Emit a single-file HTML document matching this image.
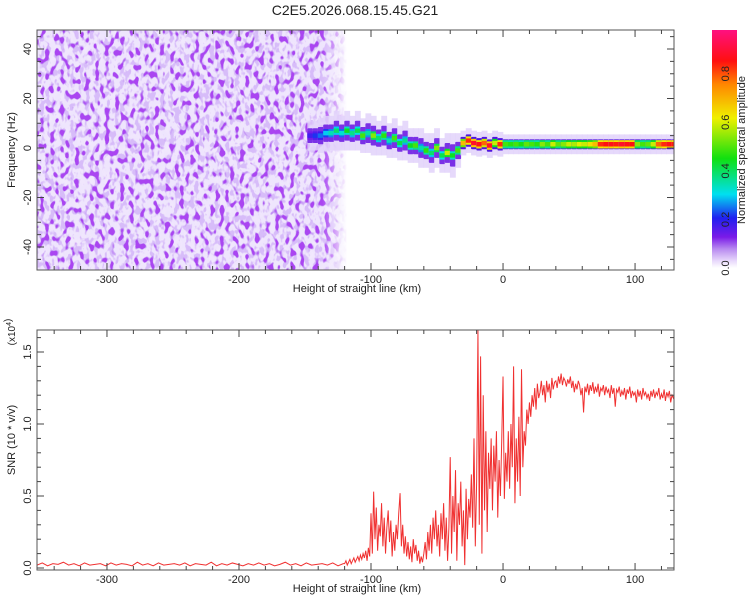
<!DOCTYPE html>
<html><head><meta charset="utf-8"><style>
html,body{margin:0;padding:0;background:#fff;}
svg{display:block;font-family:"Liberation Sans",sans-serif;}
</style></head><body>
<svg id="chart" width="750" height="600" viewBox="0 0 750 600">
<defs>
<filter id="speck" x="0" y="0" width="100%" height="100%">
<feTurbulence type="fractalNoise" baseFrequency="0.2 0.13" numOctaves="2" seed="7" result="n"/>
<feTurbulence type="fractalNoise" baseFrequency="0.2 0.14" numOctaves="1" seed="21" result="m"/>
<feColorMatrix in="n" type="matrix" values="0 0 0 0 0.86  0 0 0 0 0.78  0 0 0 0 0.98  4 0 0 0 -1.1" result="light"/>
<feColorMatrix in="n" type="matrix" values="0 0 0 0 0.68  0 0 0 0 0.5  0 0 0 0 0.95  0 8 0 0 -4.0" result="med"/>
<feColorMatrix in="m" type="matrix" values="0 0 0 0 0.40  0 0 0 0 0.06  0 0 0 0 0.88  0 0 10 0 -5.4" result="dark"/>
<feMerge><feMergeNode in="light"/><feMergeNode in="med"/><feMergeNode in="dark"/></feMerge>
</filter>
<linearGradient id="fadeX" x1="0" x2="1" y1="0" y2="0">
<stop offset="0" stop-color="#fff"/><stop offset="0.92" stop-color="#fff"/><stop offset="1" stop-color="#000"/>
</linearGradient>
<mask id="noiseMask"><rect x="37" y="30" width="310" height="240" fill="url(#fadeX)"/></mask>
<linearGradient id="cbar" x1="0" x2="0" y1="1" y2="0">
<stop offset="0" stop-color="#ffffff"/><stop offset="0.03" stop-color="#e8d8fb"/><stop offset="0.08" stop-color="#b88af0"/>
<stop offset="0.13" stop-color="#7a1be8"/><stop offset="0.21" stop-color="#2020f0"/><stop offset="0.31" stop-color="#00e0f0"/>
<stop offset="0.46" stop-color="#10e010"/><stop offset="0.63" stop-color="#f0f000"/><stop offset="0.77" stop-color="#ff8800"/>
<stop offset="0.87" stop-color="#ff1010"/><stop offset="1" stop-color="#ff1080"/>
</linearGradient>
<clipPath id="clipTop"><rect x="37" y="30" width="637" height="240"/></clipPath>
<clipPath id="clipBot"><rect x="37" y="330" width="637" height="240"/></clipPath>
</defs>

<text x="355" y="15" font-size="14" text-anchor="middle" fill="#222">C2E5.2026.068.15.45.G21</text>

<g id="topPanel">
<rect x="37" y="30" width="310" height="240" fill="#f1e8fd" mask="url(#noiseMask)"/>
<rect x="37" y="30" width="310" height="240" filter="url(#speck)" mask="url(#noiseMask)"/>
<g id="band" clip-path="url(#clipTop)"></g>
<rect x="37" y="30" width="637" height="240" fill="none" stroke="#555" stroke-width="1"/>
<g id="topTicks"></g>
<text x="357" y="292" font-size="11" text-anchor="middle" fill="#222">Height of straight line (km)</text>
<text transform="translate(15,150) rotate(-90)" font-size="11" text-anchor="middle" fill="#222">Frequency (Hz)</text>
</g>

<g id="colorbar">
<rect x="712" y="30" width="25" height="238" fill="url(#cbar)"/>
<g id="cbTicks"></g>
<text transform="translate(745,150) rotate(-90)" font-size="11" text-anchor="middle" fill="#222">Normalized spectral amplitude</text>
</g>

<g id="botPanel">
<path id="snrLine" fill="none" stroke="#f03030" stroke-width="1" clip-path="url(#clipBot)"/>
<rect x="37" y="330" width="637" height="240" fill="none" stroke="#555" stroke-width="1"/>
<g id="botTicks"></g>
<text x="357" y="592" font-size="11" text-anchor="middle" fill="#222">Height of straight line (km)</text>
<text transform="translate(15,440) rotate(-90)" font-size="11" text-anchor="middle" fill="#222">SNR (10 * v/v)</text>
<text transform="translate(15,332) rotate(-90)" font-size="10" text-anchor="middle" fill="#222">(x10<tspan font-size="7" dy="-4">4</tspan>)</text>
</g>
</svg>
<script>
// ---- data ----
const xTicks = [-300, -200, -100, 0, 100];
const freqTicks = [-40, -20, 0, 20, 40];
const snrTicks = [0.0, 0.5, 1.0, 1.5];
const cbTicks = [0.0, 0.2, 0.4, 0.6, 0.8];
const bandKm = [-146,-142,-138,-134,-130,-126,-122,-118,-114,-110,-106,-102,-98,-94,-90,-86,-82,-78,-74,-70,-66,-62,-58,-54,-50,-46,-42,-38,-34,-30,-26,-22,-18,-14,-10,-6,-2,2,6,10,14,18,22,26,30,34,38,42,46,50,54,58,62,66,70,74,78,82,86,90,94,98,102,106,110,114,118,122,126,130];
const bandFreq = [5,5,5,6,6,7,6,7,6,7,5,6,5,4,5,3,4,2,3,1,1,0,-1,-2,0,-3,-2,-3,-1,2,3,2,1.5,2,1,2,1.5,1.5,1.5,1.5,1.5,1.5,1.5,1.5,1.5,1.5,1.5,1.5,1.5,1.5,1.5,1.5,1.5,1.5,1.5,1.5,1.5,1.5,1.5,1.5,1.5,1.5,1.5,1.5,1.5,1.5,1.5,1.5,1.5,1.5];
const bandAmp = [0.18,0.22,0.25,0.3,0.35,0.4,0.33,0.45,0.38,0.42,0.5,0.36,0.55,0.4,0.48,0.35,0.5,0.42,0.38,0.45,0.5,0.36,0.48,0.4,0.55,0.42,0.6,0.45,0.5,0.7,0.85,0.9,0.88,0.8,0.9,0.6,0.85,0.5,0.48,0.5,0.47,0.52,0.5,0.48,0.55,0.5,0.6,0.52,0.55,0.6,0.58,0.62,0.6,0.65,0.7,0.85,0.87,0.88,0.86,0.9,0.88,0.87,0.55,0.5,0.52,0.6,0.8,0.85,0.88,0.86];
const bandSpread = [6,6,7,7,7,8,7,8,7,8,7,8,8,7,8,7,8,7,8,7,7,8,7,8,8,7,8,9,7,5,5,5,5,5,5,5,5,4,4,4,4,4,4,4,4,4,4,4,4,4,4,4,4,4,4,4,4,4,4,4,4,4,4,4,4,4,4,4,4,4];
const snrBase = [0.02,0.035,0.015,0.03,0.025,0.04,0.02,0.03,0.015,0.035,0.02,0.025,0.03,0.015,0.035,0.02,0.03,0.025,0.015,0.04,0.02,0.03,0.015,0.035,0.02,0.025,0.03,0.02,0.035,0.015,0.03,0.025,0.02,0.04,0.015,0.03,0.02,0.035,0.025,0.015,0.03,0.02,0.035,0.02,0.03,0.015,0.025,0.04,0.02,0.03,0.015,0.035,0.02,0.025,0.03,0.02,0.035,0.015,0.03];
const snrMain = [
.03,.05,.02,.04,.06,.03,.05,.07,.04,.06,
.08,.05,.09,.06,.10,.07,.12,.05,.14,.08,
.38,.10,.53,.20,.42,.12,.30,.22,.45,.15,
.35,.10,.28,.40,.18,.33,.08,.25,.12,.30,
.20,.38,.52,.15,.30,.10,.22,.08,.18,.06,
.15,.04,.20,.10,.16,.05,.12,.03,.08,.04,
.10,.18,.06,.25,.12,.30,.10,.35,.20,.40,
.15,.30,.08,.38,.20,.45,.12,.35,.05,.28,
.77,.10,.50,.25,.68,.05,.45,.30,.60,.15,
.40,.02,.55,.20,.48,.35,.65,.28,.90,.15,
.60,1.65,.30,1.47,.10,1.20,.40,.95,.25,.80,
.55,.90,.40,.85,.60,.95,.35,.75,.50,.88,
1.33,.48,.80,.60,.95,.55,1.0,.70,1.40,.45,
.90,.60,1.05,.50,1.38,.70,.95,.85,1.10,1.00,
1.15,1.05,1.20,1.12,1.25,1.10,1.28,1.18,1.22,1.30,
1.20,1.27,1.15,1.30,1.22,1.28,1.18,1.32,1.24,1.29,
1.30,1.25,1.33,1.28,1.35,1.27,1.32,1.30,1.26,1.31,
1.28,1.33,1.25,1.30,1.22,1.28,1.24,1.30,1.27,1.20,
1.25,1.08,1.26,1.22,1.28,1.20,1.27,1.23,1.29,1.21,
1.26,1.22,1.28,1.19,1.25,1.23,1.27,1.20,1.26,1.22,
1.24,1.18,1.27,1.21,1.25,1.12,1.24,1.22,1.26,1.19,
1.23,1.20,1.25,1.17,1.24,1.21,1.26,1.18,1.23,1.20,
1.22,1.15,1.24,1.19,1.23,1.17,1.25,1.20,1.22,1.18,
1.21,1.16,1.23,1.19,1.24,1.18,1.22,1.20,1.25,1.17,
1.21,1.18,1.24,1.16,1.22,1.19,1.23,1.15,1.20,1.18,1.22];
const snrKm = [];
for (let i = 0; i < snrBase.length; i++) snrKm.push(-353 + i * 4);
for (let i = 0; i < snrMain.length; i++) snrKm.push(-120 + i);
const snrVal = snrBase.concat(snrMain);

// ---- scales ----
const X0 = 37, X1 = 674, KM0 = -353, KM1 = 129.5;
const xs = km => X0 + (km - KM0) / (KM1 - KM0) * (X1 - X0);
const yF = f => 148 - 2.475 * f;
const yS = s => 568 - 144 * s;
const NS = 'http://www.w3.org/2000/svg';
function mk(tag, attrs, parent) {
  const e = document.createElementNS(NS, tag);
  for (const k in attrs) e.setAttribute(k, attrs[k]);
  parent.appendChild(e);
  return e;
}
const stops = [[0,[255,255,255]],[0.03,[232,216,251]],[0.08,[184,138,240]],[0.13,[122,27,232]],[0.21,[32,32,240]],[0.31,[0,224,240]],[0.46,[16,224,16]],[0.63,[240,240,0]],[0.77,[255,136,0]],[0.87,[255,16,16]],[1,[255,16,128]]];
function cmap(v) {
  for (let i = 1; i < stops.length; i++) {
    if (v <= stops[i][0]) {
      const a = stops[i-1], b = stops[i], t = (v - a[0]) / (b[0] - a[0]);
      const c = a[1].map((x, j) => Math.round(x + (b[1][j] - x) * t));
      return `rgb(${c[0]},${c[1]},${c[2]})`;
    }
  }
  return 'rgb(255,16,128)';
}

// ---- spectrogram band ----
const band = document.getElementById('band');
const w = xs(4) - xs(0) + 0.6;
for (let i = 0; i < bandKm.length; i++) {
  const x = xs(bandKm[i]) - w / 2, f = bandFreq[i], a = bandAmp[i], s = bandSpread[i];
  const halo = mk('rect', {x: x, y: yF(f + s), width: w, height: yF(f - s) - yF(f + s), fill: '#e2d2fa', opacity: 0.85}, band);
  
  
  const mid = mk('rect', {x: x, y: yF(f + s * 0.5), width: w, height: yF(f - s * 0.5) - yF(f + s * 0.5), fill: s > 5 ? '#7a30e6' : '#5014e0', rx: 1}, band);
  
  
  const core = mk('rect', {x: x, y: yF(f + 1.7), width: w, height: yF(f - 1.7) - yF(f + 1.7), fill: cmap(a * 0.75), rx: 0.5}, band);
  
  
  const hot = mk('rect', {x: x, y: yF(f + 0.9), width: w, height: yF(f - 0.9) - yF(f + 0.9), fill: cmap(a), rx: 0.5}, band);
  
  
}

// ---- ticks ----
function ticksX(g, top, bot, labelY) {
  for (let km = -340; km <= 120; km += 20) {
    const x = xs(km), L = (km % 100 === 0) ? 7 : 4;
    mk('line', {x1: x, x2: x, y1: bot, y2: bot - L, stroke: '#444'}, g);
    mk('line', {x1: x, x2: x, y1: top, y2: top + L, stroke: '#444'}, g);
  }
  xTicks.forEach(v => {
    const t = mk('text', {x: xs(v), y: labelY, 'font-size': 11, 'text-anchor': 'middle', fill: '#222'}, g);
    
    
    t.textContent = v;
  });
}
const tt = document.getElementById('topTicks');
ticksX(tt, 30, 270, 283);
for (let f = -45; f <= 45; f += 5) {
  const y = yF(f), L = (f % 20 === 0) ? 7 : 4;
  mk('line', {x1: 37, x2: 37 + L, y1: y, y2: y, stroke: '#444'}, tt);
  mk('line', {x1: 674, x2: 674 - L, y1: y, y2: y, stroke: '#444'}, tt);
}
freqTicks.forEach(v => {
  const t = mk('text', {transform: `translate(31,${yF(v)}) rotate(-90)`, 'font-size': 11, 'text-anchor': 'middle', fill: '#222'}, tt);
  
  
  t.textContent = v;
});
const bt = document.getElementById('botTicks');
ticksX(bt, 330, 570, 583);
for (let s = 0; s <= 1.6001; s += 0.1) {
  const y = yS(s), L = (Math.round(s * 10) % 5 === 0) ? 7 : 4;
  mk('line', {x1: 37, x2: 37 + L, y1: y, y2: y, stroke: '#444'}, bt);
  mk('line', {x1: 674, x2: 674 - L, y1: y, y2: y, stroke: '#444'}, bt);
}
snrTicks.forEach(v => {
  const t = mk('text', {transform: `translate(31,${yS(v)}) rotate(-90)`, 'font-size': 11, 'text-anchor': 'middle', fill: '#222'}, bt);
  
  
  t.textContent = v.toFixed(1);
});
const cb = document.getElementById('cbTicks');
cbTicks.forEach(v => {
  const y = 268 - v / 0.98 * 238;
  const t = mk('text', {transform: `translate(729,${y}) rotate(-90)`, 'font-size': 11, 'text-anchor': 'middle', fill: '#222'}, cb);
  
  
  t.textContent = v.toFixed(1);
});

// ---- SNR line ----
let d = '';
for (let i = 0; i < snrKm.length; i++) d += (i ? 'L' : 'M') + xs(snrKm[i]).toFixed(2) + ',' + yS(snrVal[i]).toFixed(2);
document.getElementById('snrLine').setAttribute('d', d);
</script>
</body></html>
